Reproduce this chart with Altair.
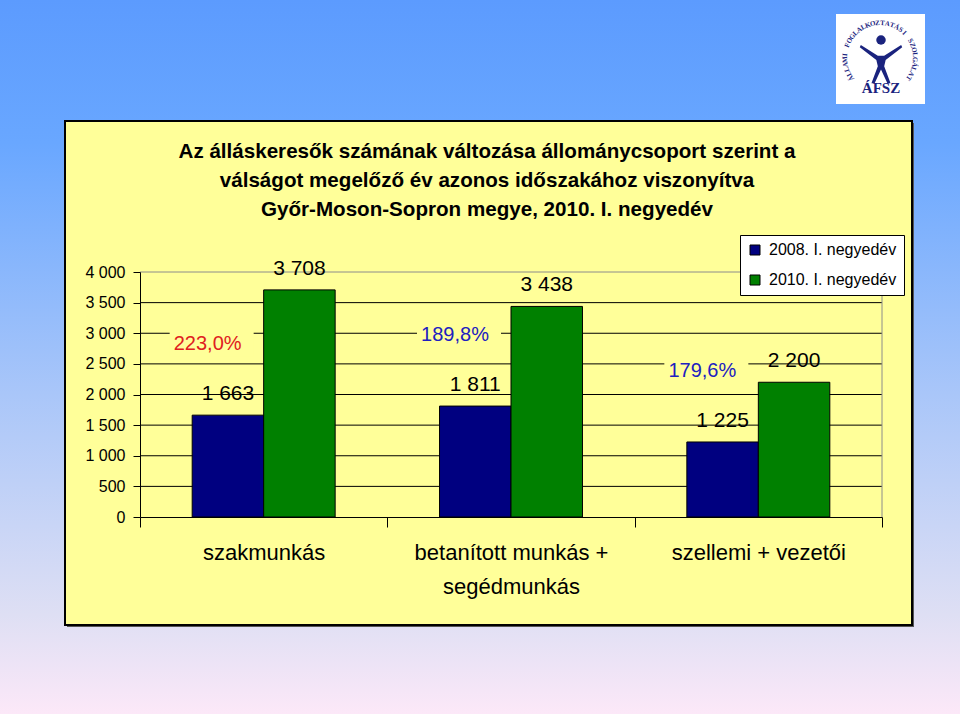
import math
import altair as alt
import pandas as pd

# ---------------- data ----------------
categories = ["szakmunkás", "betanított munkás + segédmunkás", "szellemi + vezetői"]
series = ["2008. I. negyedév", "2010. I. negyedév"]
values_2008 = [1663, 1811, 1225]
values_2010 = [3708, 3438, 2200]
y_ticks = [0, 500, 1000, 1500, 2000, 2500, 3000, 3500, 4000]
title_lines = [
    "Az álláskeresők számának változása állománycsoport szerint a",
    "válságot megelőző év azonos időszakához viszonyítva",
    "Győr-Moson-Sopron megye, 2010. I. negyedév",
]
logo_text = "ÁLLAMI FOGLALKOZTATÁSI SZOLGÁLAT"
logo_abbr = "ÁFSZ"

# ---------------- layout ----------------
W, H = 742, 245
PL, PT, PR, PB = 140, 272, 78, 197
FONT = "Liberation Sans"
PANEL = "#FFFF99"
NAVY = "#000080"
GREEN = "#008000"


def thousands(v):
    return f"{v:,}".replace(",", " ")


rows = []
for c, a, b in zip(categories, values_2008, values_2010):
    rows.append({"cat": c, "series": series[0], "value": a, "lbl": thousands(a)})
    rows.append({"cat": c, "series": series[1], "value": b, "lbl": thousands(b)})
bars_df = pd.DataFrame(rows)

pct_df = pd.DataFrame({
    "cat": categories,
    "value": values_2008,
    "pct": [f"{b / a * 100:.1f}".replace(".", ",") + "%" for a, b in zip(values_2008, values_2010)],
})

grid_df = pd.DataFrame({"value": y_ticks[1:-1]})
top_df = pd.DataFrame({"value": [y_ticks[-1]]})

one = alt.Data(values=[{"k": 1}])

x_scale = alt.Scale(domain=categories, paddingInner=0, paddingOuter=0)
y_scale = alt.Scale(domain=[0, 4000], nice=False, zero=True)

x_axis = alt.Axis(
    title=None, grid=False, tickBand="extent", tickSize=10, tickColor="black",
    domainColor="black", labelColor="black", labelFont=FONT, labelFontSize=22,
    labelAngle=0, labelPadding=15, labelLimit=400, labelLineHeight=34, zindex=1,
    labelExpr="datum.label == 'betanított munkás + segédmunkás' ? ['betanított munkás +', 'segédmunkás'] : datum.label",
)
y_axis = alt.Axis(
    title=None, grid=False, values=y_ticks, tickSize=7, tickColor="black",
    domainColor="black", labelColor="black", labelFont=FONT, labelFontSize=16,
    labelPadding=8, zindex=1,
    labelExpr="replace(format(datum.value, ','), ',', ' ')",
)


def X():
    return alt.X("cat:N", sort=categories, scale=x_scale, axis=x_axis)


def Y():
    return alt.Y("value:Q", scale=y_scale, axis=y_axis)


# ---------------- decoration ----------------
background = alt.Chart(one).mark_rect(
    color=alt.Gradient(
        gradient="linear", x1=0, x2=0, y1=0, y2=1,
        stops=[
            alt.GradientStop(color="#5C9BFE", offset=0),
            alt.GradientStop(color="#69A7FF", offset=0.2),
            alt.GradientStop(color="#A9C6F9", offset=0.55),
            alt.GradientStop(color="#DEDFF4", offset=0.86),
            alt.GradientStop(color="#FCE8F8", offset=1),
        ],
    )
).encode(x=alt.value(-PL), x2=alt.value(960 - PL), y=alt.value(-PT), y2=alt.value(714 - PT))

shadow = alt.Chart(one).mark_rect(color="#555555").encode(
    x=alt.value(65 - PL + 2), x2=alt.value(912 - PL + 2), y=alt.value(121 - PT + 2), y2=alt.value(625 - PT + 2)
)
panel = alt.Chart(one).mark_rect(fill=PANEL, stroke="black", strokeWidth=2).encode(
    x=alt.value(65 - PL), x2=alt.value(912 - PL), y=alt.value(121 - PT), y2=alt.value(625 - PT)
)

title_layers = []
for i, line in enumerate(title_lines):
    title_layers.append(
        alt.Chart(one).mark_text(
            text=line, font=FONT, fontSize=20.6, fontWeight="bold", color="black",
            align="center", baseline="alphabetic",
        ).encode(x=alt.value(487 - PL), y=alt.value(158 + 29 * i - PT))
    )

# logo
logo_box = alt.Chart(one).mark_rect(fill="white").encode(
    x=alt.value(836 - PL), x2=alt.value(925 - PL), y=alt.value(14 - PT), y2=alt.value(104 - PT)
)
cx, cy, r = 880 - PL, 58 - PT, 35
n = len(logo_text)
letters = []
for i, ch in enumerate(logo_text):
    a = -125 + 250 * i / (n - 1)
    letters.append({
        "ch": ch,
        "px": cx + r * math.sin(math.radians(a)),
        "py": cy - r * math.cos(math.radians(a)),
        "ang": a % 360,
    })
logo_letters = alt.Chart(alt.Data(values=letters)).mark_text(
    font="Liberation Serif", fontSize=7, fontWeight="bold", color="#1A237E",
    align="center", baseline="middle",
).encode(
    x=alt.X("px:Q", scale=None), y=alt.Y("py:Q", scale=None),
    text="ch:N", angle=alt.Angle("ang:Q", scale=None),
)
person_path = ("M-0.95,-0.8L-0.15,-0.3L0.15,-0.3L0.95,-0.8L1,-0.7L0.22,-0.1L0.15,0.2"
               "L0.45,1L0.3,1L0,0.35L-0.3,1L-0.45,1L-0.15,0.2L-0.22,-0.1L-1,-0.7Z")
logo_person = alt.Chart(one).mark_point(
    shape=person_path, size=1800, filled=True, color="#1A237E", opacity=1
).encode(x=alt.value(881 - PL), y=alt.value(62 - PT))
logo_head = alt.Chart(one).mark_point(
    shape="circle", size=90, filled=True, color="#1A237E", opacity=1
).encode(x=alt.value(881 - PL), y=alt.value(40 - PT))
logo_abbr_t = alt.Chart(one).mark_text(
    text=logo_abbr, font="Liberation Serif", fontSize=15, fontWeight="bold",
    color="#1A237E", align="center", baseline="alphabetic",
).encode(x=alt.value(881 - PL), y=alt.value(93 - PT))

# ---------------- grid ----------------
grid = alt.Chart(grid_df).mark_rule(color="black", strokeWidth=1).encode(
    y=Y(), x=alt.value(0), x2=alt.value(W)
)
top_line = alt.Chart(top_df).mark_rule(color="#8C8C8C", strokeWidth=1).encode(
    y=Y(), x=alt.value(0), x2=alt.value(W)
)
right_line = alt.Chart(one).mark_rule(color="#8C8C8C", strokeWidth=1).encode(
    x=alt.value(W), y=alt.value(0), y2=alt.value(H)
)

# ---------------- bars ----------------
xo = alt.XOffset("series:N", sort=series, scale=alt.Scale(paddingOuter=0.73, paddingInner=0))
bars = alt.Chart(bars_df).mark_bar(stroke="black", strokeWidth=1).encode(
    x=X(),
    xOffset=xo,
    y=Y(),
    color=alt.Color(
        "series:N", sort=series,
        scale=alt.Scale(domain=series, range=[NAVY, GREEN]),
        legend=alt.Legend(
            title=None, orient="none", legendX=600, legendY=-37, direction="vertical",
            fillColor="white", strokeColor="black", padding=7,
            labelFont=FONT, labelFontSize=16, labelColor="black", labelOffset=6,
            symbolType="square", symbolSize=100, symbolStrokeColor="black",
            symbolStrokeWidth=1, rowPadding=14,
        ),
    ),
)

value_labels = alt.Chart(bars_df).mark_text(
    font=FONT, fontSize=21, color="black", align="center", baseline="alphabetic", dy=-15
).encode(
    x=X(), xOffset=xo, y=Y(), text="lbl:N",
)

pct_box = alt.Chart(pct_df).mark_point(
    shape="M-1,-0.31L1,-0.31L1,0.31L-1,0.31Z", size=84 * 84, filled=True,
    color=PANEL, opacity=1, xOffset=-52, yOffset=-72,
).encode(x=X(), y=Y())
pct_labels = alt.Chart(pct_df).mark_text(
    font=FONT, fontSize=20, align="center", baseline="alphabetic", dx=-56, dy=-65
).encode(
    x=X(), y=Y(),
    text="pct:N",
    color=alt.condition(alt.datum.cat == categories[0], alt.value("#E02020"), alt.value("#2020C0")),
)

chart = alt.layer(
    background, shadow, panel, *title_layers,
    logo_box, logo_letters, logo_person, logo_head, logo_abbr_t,
    grid, top_line, right_line,
    bars, value_labels, pct_box, pct_labels,
).properties(
    width=W, height=H,
    autosize=alt.AutoSizeParams(type="none"),
    padding={"left": PL, "top": PT, "right": PR, "bottom": PB},
).configure_view(strokeWidth=0)

chart.save("out.html", embed_options={"renderer": "svg", "actions": False})
